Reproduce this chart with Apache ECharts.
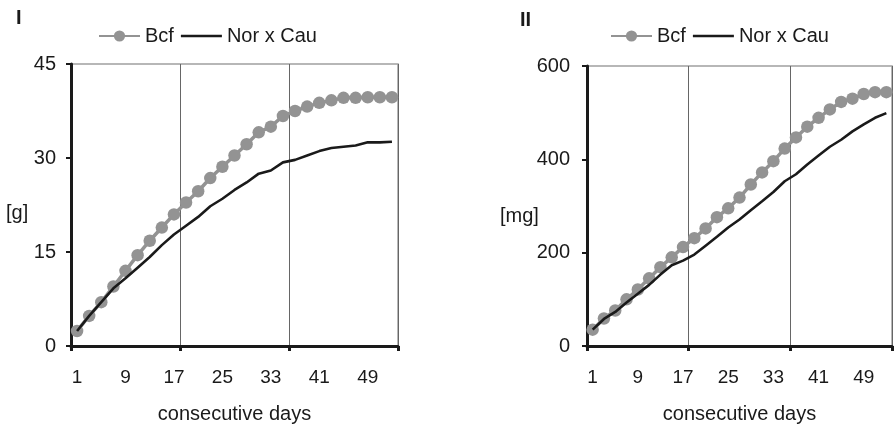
<!DOCTYPE html>
<html>
<head>
<meta charset="utf-8">
<script src="https://cdn.jsdelivr.net/npm/echarts@6/dist/echarts.min.js"></script>
<style>
html,body{margin:0;padding:0;background:#fff;}
#c{width:896px;height:429px;}
</style>
</head>
<body>
<div id="c"></div>
<script>
const days = [1,3,5,7,9,11,13,15,17,19,21,23,25,27,29,31,33,35,37,39,41,43,45,47,49,51,53];
const bcfI = [2.4,4.8,7.0,9.5,12.0,14.5,16.8,18.9,21.0,22.9,24.7,26.8,28.6,30.4,32.2,34.1,35.0,36.7,37.5,38.2,38.8,39.2,39.6,39.6,39.7,39.7,39.7];
const norI = [2.4,4.8,7.0,9.2,10.8,12.5,14.2,16.1,17.8,19.2,20.6,22.3,23.5,24.9,26.1,27.5,28.0,29.3,29.7,30.4,31.1,31.6,31.8,32.0,32.5,32.5,32.6];
const bcfII = [35,59,76,100,121,145,169,190,212,231,252,276,295,318,346,372,396,423,447,470,489,507,523,530,540,544,544];
const norII = [35,58,73,93,112,131,153,173,183,196,215,234,254,271,291,310,330,353,368,389,408,427,442,460,475,489,499];
const yTicksI = [0,15,30,45];
const yTicksII = [0,200,400,600];
const seriesNames = ['Bcf','Nor x Cau'];
const panelTitles = ['I','II'];
const unitNames = ['[g]','[mg]'];
const xName = 'consecutive days';

const FONT = 'Liberation Sans, Arial, sans-serif';
const DARK = '#1a1a1a';
const GREY = '#939393';

function xAxisCfg(gi){
  return {
    type:'category', gridIndex:gi, data:days, boundaryGap:true,
    name:xName, nameLocation:'middle', nameGap:58,
    nameTextStyle:{fontFamily:FONT,fontSize:20,color:DARK},
    axisLine:{lineStyle:{color:DARK,width:3}},
    axisTick:{show:true,interval:8,length:5,lineStyle:{color:DARK,width:3}},
    axisLabel:{interval:3,margin:22,fontFamily:FONT,fontSize:19,color:DARK},
    splitLine:{show:true,interval:8,lineStyle:{color:'#666',width:1}}
  };
}
function yAxisCfg(gi,ticks,margin){
  return {
    type:'value', gridIndex:gi, min:ticks[0], max:ticks[ticks.length-1],
    interval:ticks[1]-ticks[0],
    axisLine:{show:true,lineStyle:{color:DARK,width:3}},
    axisTick:{show:true,length:5,lineStyle:{color:DARK,width:2}},
    axisLabel:{margin:margin,fontFamily:FONT,fontSize:20,color:DARK},
    splitLine:{show:false}
  };
}
function bcfSeries(xi,data){
  return {name:seriesNames[0],type:'line',xAxisIndex:xi,yAxisIndex:xi,data:data,
    symbol:'circle',symbolSize:12.5,showSymbol:true,showAllSymbol:true,
    itemStyle:{color:GREY},lineStyle:{color:GREY,width:3.5},z:3,animation:false};
}
function norSeries(xi,data){
  return {name:seriesNames[1],type:'line',xAxisIndex:xi,yAxisIndex:xi,data:data,
    symbol:'none',showSymbol:false,
    itemStyle:{color:DARK},lineStyle:{color:DARK,width:2.6},z:4,animation:false};
}
function legendCfg(left){
  return {left:left,top:26,padding:0,itemWidth:41,itemHeight:14,itemGap:7,symbolKeepAspect:true,
    textStyle:{fontFamily:FONT,fontSize:20,color:DARK},
    data:[{name:seriesNames[0]},{name:seriesNames[1],icon:'path://M0,0L41,0L41,2.7L0,2.7Z'}]};
}

const chart = echarts.init(document.getElementById('c'),null,{renderer:'canvas'});
chart.setOption({
  animation:false,
  backgroundColor:'#fff',
  grid:[
    {left:71,top:64,width:327,height:288,show:true,borderColor:'#a0a0a0',borderWidth:1.5,backgroundColor:'transparent'},
    {left:587,top:66,width:305,height:291,show:true,borderColor:'#a0a0a0',borderWidth:1.5,backgroundColor:'transparent'}
  ],
  legend:[legendCfg(98),legendCfg(610)],
  xAxis:[xAxisCfg(0),xAxisCfg(1)],
  yAxis:[yAxisCfg(0,yTicksI,15),yAxisCfg(1,yTicksII,17)],
  series:[bcfSeries(0,bcfI),norSeries(0,norI),bcfSeries(1,bcfII),norSeries(1,norII)],
  graphic:[
    {type:'text',left:16,top:8,style:{text:panelTitles[0],fontFamily:FONT,fontSize:20,fontWeight:'bold',fill:DARK}},
    {type:'text',left:520,top:10,style:{text:panelTitles[1],fontFamily:FONT,fontSize:20,fontWeight:'bold',fill:DARK}},
    {type:'text',left:6,top:203,style:{text:unitNames[0],fontFamily:FONT,fontSize:20,fill:DARK}},
    {type:'text',left:500,top:206,style:{text:unitNames[1],fontFamily:FONT,fontSize:20,fill:DARK}}
  ]
});
</script>
</body>
</html>
